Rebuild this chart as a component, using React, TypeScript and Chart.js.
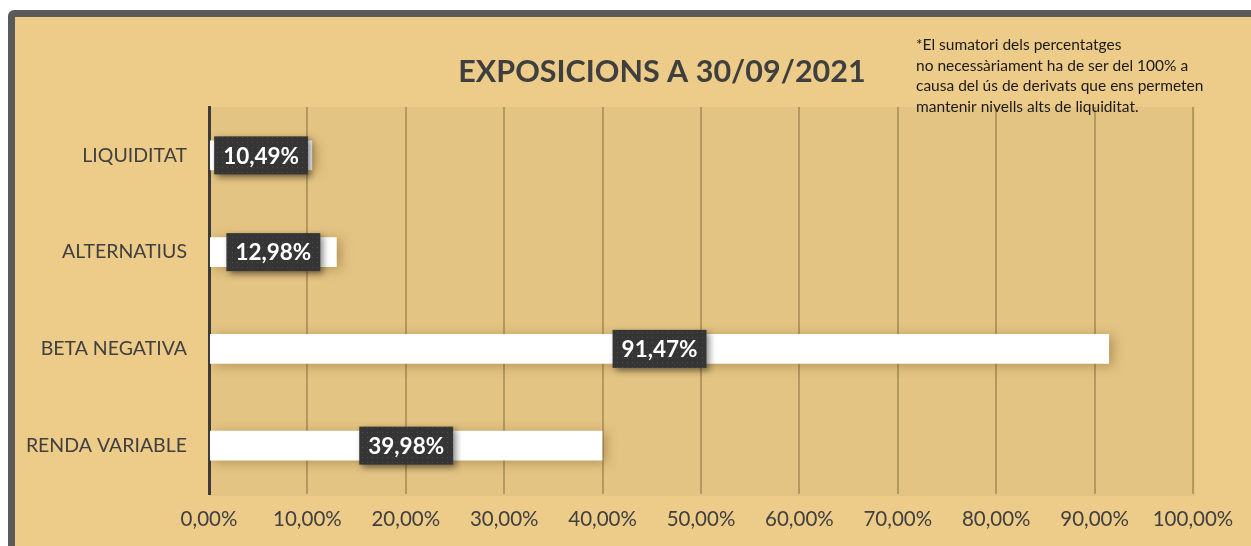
import React, { useEffect, useRef } from "react";
import { Chart, registerables } from "chart.js";

Chart.register(...registerables);

const categories = ["LIQUIDITAT", "ALTERNATIUS", "BETA NEGATIVA", "RENDA VARIABLE"];
const values = [10.49, 12.98, 91.47, 39.98];
const xTickLabels = [
  "0,00%", "10,00%", "20,00%", "30,00%", "40,00%", "50,00%",
  "60,00%", "70,00%", "80,00%", "90,00%", "100,00%",
];
const titleText = "EXPOSICIONS A 30/09/2021";
const noteLines = [
  "*El sumatori dels percentatges",
  "no necessàriament ha de ser del 100% a",
  "causa del ús de derivats que ens permeten",
  "mantenir nivells alts de liquiditat.",
];

const FONT = "Lato, 'Open Sans', sans-serif";

function makeDotPattern(ctx: CanvasRenderingContext2D) {
  const c = document.createElement("canvas");
  c.width = 5;
  c.height = 5;
  const p = c.getContext("2d")!;
  p.fillStyle = "#353535";
  p.fillRect(0, 0, 5, 5);
  p.fillStyle = "#4d4d4d";
  p.fillRect(2, 2, 1, 1);
  return ctx.createPattern(c, "repeat");
}

const decorPlugin = {
  id: "decor",
  beforeDraw(chart: any) {
    const { ctx, chartArea: a } = chart;
    ctx.save();
    ctx.fillStyle = "#E4C483";
    ctx.fillRect(a.left, a.top, a.right - a.left + 2, a.bottom - a.top + 2);
    ctx.restore();
  },
  beforeDatasetDraw(chart: any) {
    const ctx = chart.ctx;
    ctx.save();
    ctx.shadowColor = "rgba(90,60,10,0.35)";
    ctx.shadowBlur = 12;
    ctx.shadowOffsetX = 4;
    ctx.shadowOffsetY = 2;
  },
  afterDatasetDraw(chart: any) {
    chart.ctx.restore();
  },
  afterDatasetsDraw(chart: any) {
    const ctx = chart.ctx;
    const meta = chart.getDatasetMeta(0);
    const pattern = makeDotPattern(ctx);
    ctx.save();
    ctx.font = `bold 22.5px ${FONT}`;
    meta.data.forEach((bar: any, i: number) => {
      const { x, y, base } = bar.getProps(["x", "y", "base"], true);
      const cx = (x + base) / 2;
      const txt = values[i].toFixed(2).replace(".", ",") + "%";
      const tw = ctx.measureText(txt).width;
      const w = tw + 18;
      const h = 38;
      ctx.save();
      ctx.shadowColor = "rgba(0,0,0,0.45)";
      ctx.shadowBlur = 6;
      ctx.shadowOffsetX = 3;
      ctx.shadowOffsetY = 3;
      ctx.fillStyle = pattern || "#353535";
      ctx.fillRect(cx - w / 2, y - h / 2, w, h);
      ctx.restore();
      ctx.fillStyle = "#FFFFFF";
      ctx.textAlign = "center";
      ctx.textBaseline = "middle";
      ctx.fillText(txt, cx, y + 1);
    });
    ctx.restore();
  },
  afterDraw(chart: any) {
    const ctx = chart.ctx;
    ctx.save();
    ctx.fillStyle = "#3F3F3F";
    ctx.font = `bold 30.5px ${FONT}`;
    ctx.textAlign = "center";
    ctx.textBaseline = "middle";
    ctx.fillText(titleText, 662, 72);
    ctx.fillStyle = "#1A1A1A";
    ctx.font = `15.5px ${FONT}`;
    ctx.textAlign = "left";
    noteLines.forEach((l, i) => ctx.fillText(l, 916, 45 + i * 20.5));
    ctx.restore();
  },
};

export default function App() {
  const ref = useRef<HTMLCanvasElement>(null);

  useEffect(() => {
    if (!ref.current) return;
    const chart = new Chart(ref.current, {
      type: "bar",
      data: {
        labels: categories,
        datasets: [
          {
            data: values,
            backgroundColor: "#FFFFFF",
            borderWidth: 0,
            barPercentage: 0.31,
            categoryPercentage: 1,
          },
        ],
      },
      options: {
        indexAxis: "y",
        animation: false,
        responsive: false,
        maintainAspectRatio: false,
        layout: { padding: { left: 0, top: 107, right: 58, bottom: 0 } },
        plugins: {
          legend: { display: false },
          tooltip: { enabled: false },
          title: { display: false },
        },
        scales: {
          x: {
            min: 0,
            max: 100,
            ticks: {
              stepSize: 10,
              autoSkip: false,
              maxRotation: 0,
              padding: 13,
              color: "#404040",
              font: { family: FONT, size: 20.5 },
              callback: (_v: any, i: number) => xTickLabels[i],
            },
            grid: {
              drawTicks: false,
              color: (c: any) => (c.index === 0 ? "rgba(0,0,0,0)" : "#B39860"),
              lineWidth: 2,
            },
            border: { display: false },
            afterFit: (s: any) => {
              s.height = 52;
            },
          },
          y: {
            ticks: {
              padding: 22,
              color: "#404040",
              font: { family: FONT, size: 19.5 },
            },
            grid: { display: false, drawTicks: false },
            border: { display: true, color: "#3B3B3B", width: 3 },
            afterFit: (s: any) => {
              s.width = 209;
            },
          },
        },
      },
      plugins: [decorPlugin],
    } as any);
    return () => chart.destroy();
  }, []);

  return (
    <div
      style={{
        position: "fixed",
        left: 0,
        top: 0,
        width: 1251,
        height: 546,
        background: "#FFFFFF",
        overflow: "hidden",
      }}
    >
      <div
        style={{
          position: "absolute",
          left: 8,
          top: 10,
          width: 1300,
          height: 600,
          border: "7px solid #5A5A5A",
          borderRadius: 6,
          background: "#EDCB88",
          boxSizing: "border-box",
        }}
      />
      <canvas
        ref={ref}
        width={1251}
        height={546}
        style={{ position: "absolute", left: 0, top: 0, width: 1251, height: 546 }}
      />
    </div>
  );
}
